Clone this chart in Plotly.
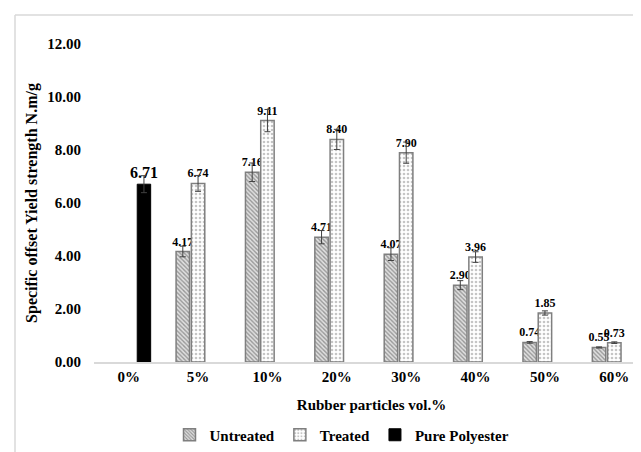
import plotly.graph_objects as go

categories = ["0%", "5%", "10%", "20%", "30%", "40%", "50%", "60%"]
untreated = [None, 4.17, 7.16, 4.71, 4.07, 2.90, 0.74, 0.55]
untreated_err = [None, 0.20, 0.35, 0.25, 0.24, 0.17, 0.03, 0.02]
treated = [None, 6.74, 9.11, 8.40, 7.90, 3.96, 1.85, 0.73]
treated_err = [None, 0.30, 0.42, 0.38, 0.40, 0.20, 0.08, 0.03]
pure = [6.71, None, None, None, None, None, None, None]
pure_err = [0.32, None, None, None, None, None, None, None]

FONT = "Liberation Serif"
W, H = 641, 452
L, R, T, B = 86, 0, 36, 98
pw, ph = W - L - R, H - T - B

fig = go.Figure()
fig.add_trace(go.Bar(
    name="Untreated", x=categories, y=untreated,
    error_y=dict(type="data", array=untreated_err, color="#404040", thickness=1, width=3),
    marker=dict(color="white", line=dict(color="#7f7f7f", width=1.5),
                pattern=dict(shape="\\", fgcolor="#4d4d4d", bgcolor="#e0e0e0", size=3, solidity=0.45)),
    texttemplate="%{y:.2f}", textposition="outside", constraintext="none", cliponaxis=False,
    textfont=dict(family=FONT, size=12, color="black", weight="bold"),
))
fig.add_trace(go.Bar(
    name="Treated", x=categories, y=treated,
    error_y=dict(type="data", array=treated_err, color="#404040", thickness=1, width=3),
    marker=dict(color="white", line=dict(color="#7f7f7f", width=1.5),
                pattern=dict(shape=".", fgcolor="#8c8c8c", bgcolor="white", size=4, solidity=0.35)),
    texttemplate="%{y:.2f}", textposition="outside", constraintext="none", cliponaxis=False,
    textfont=dict(family=FONT, size=12, color="black", weight="bold"),
))
fig.add_trace(go.Bar(
    name="Pure Polyester", x=categories, y=pure,
    error_y=dict(type="data", array=pure_err, color="#404040", thickness=1, width=3),
    marker=dict(color="black", line=dict(color="black", width=1)),
    texttemplate="%{y:.2f}", textposition="outside", constraintext="none", cliponaxis=False,
    textfont=dict(family=FONT, size=16, color="black", weight="bold"),
))

def px2x(px):
    return (px - L) / pw

def py2y(py):
    return (H - B - py) / ph

fig.update_layout(
    width=W, height=H,
    margin=dict(l=L, r=R, t=T, b=B),
    paper_bgcolor="white", plot_bgcolor="white",
    barmode="group", bargap=0.34, bargroupgap=0.12,
    font=dict(family=FONT, color="black"),
    showlegend=True,
    legend=dict(orientation="h", x=px2x(334), xanchor="center", y=py2y(427), yanchor="middle",
                font=dict(family=FONT, size=15, color="black", weight="bold"),
                itemwidth=30, bgcolor="rgba(0,0,0,0)"),
    xaxis=dict(
        type="category", showgrid=False, showline=True, linecolor="#d9d9d9", linewidth=1.5,
        ticks="", tickfont=dict(family=FONT, size=15, color="black", weight="bold"),
        title=dict(text="Rubber particles vol.%", standoff=16,
                   font=dict(family=FONT, size=15, color="black", weight="bold")),
    ),
    yaxis=dict(
        range=[0, 12], dtick=2, tickformat=".2f", showgrid=False, showline=False, zeroline=False,
        ticks="outside", ticklen=9, tickcolor="rgba(0,0,0,0)",
        tickfont=dict(family=FONT, size=15, color="black", weight="bold"),
        title=dict(text="Specific offset Yield strength N.m/g", standoff=5,
                   font=dict(family=FONT, size=16, color="black", weight="bold")),
    ),
    shapes=[
        dict(type="line", xref="paper", yref="paper", x0=px2x(7), x1=px2x(641), y0=py2y(7), y1=py2y(7),
             line=dict(color="#d9d9d9", width=1.5)),
        dict(type="line", xref="paper", yref="paper", x0=px2x(7), x1=px2x(7), y0=py2y(7), y1=py2y(452),
             line=dict(color="#d9d9d9", width=1.5)),
    ],
)

fig.write_html("out.html")
